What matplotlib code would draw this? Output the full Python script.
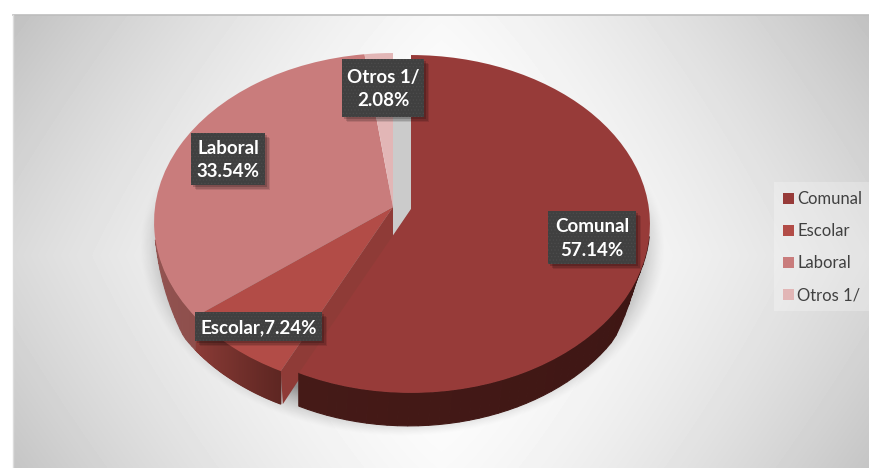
import numpy as np
import matplotlib
matplotlib.use("Agg")
import matplotlib.pyplot as plt
from matplotlib.transforms import Transform
from matplotlib.patches import Rectangle, Polygon
from matplotlib.colors import to_rgb

categories = ["Comunal", "Escolar", "Laboral", "Otros 1/"]
values = [57.14, 7.24, 33.54, 2.08]
colors = ["#973b39", "#b24c47", "#c97c7c", "#e2b6b6"]

W, H = 869, 468
K, A, B = 0.0886, 167.6, 238.0
DEPTH = 33
apex_main = (393, 207)
apex_out = (411, 209)
apexes = [apex_out, apex_main, apex_main, apex_main]
wall_cols = [("#6e2b27", "#3e1614", "#451a17"),
             ("#8c3c37", "#74302b", "#5e2622"),
             ("#a86868", "#9c605e", "#8e4f4c"),
             ("#c9a0a0", "#c9a0a0", "#c9a0a0")]

plt.rcParams["font.family"] = ["Lato", "DejaVu Sans"]


class Persp(Transform):
    input_dims = output_dims = 2
    is_separable = False
    has_inverse = False

    def __init__(self, cx, cy):
        super().__init__()
        self.cx, self.cy = cx, cy

    def transform_non_affine(self, xy):
        xy = np.asarray(xy, float)
        u, v = xy[:, 0], -xy[:, 1]
        w = 1 - K * v
        return np.column_stack([self.cx + B * u / w, self.cy + A * v / w])


fig = plt.figure(figsize=(W / 100, H / 100), dpi=100, facecolor="white")
ax = fig.add_axes([0, 0, 1, 1])
wedges, _ = ax.pie(values, colors=colors, startangle=90, counterclock=False,
                   wedgeprops=dict(linewidth=0))
ax.set_aspect("auto")
ax.set_xlim(0, W)
ax.set_ylim(H, 0)
ax.axis("off")

# background: soft gradient panel, dark at the corners
X0, Y0 = 13, 15
yy, xx = np.mgrid[Y0:H, X0:W]
dx = np.abs(xx - 441) / 428
dy = np.abs(yy - 255) / 240
f = 0.6 * dx ** 1.6 + 0.12 * dy ** 2 + 0.28 * dx * dy
bg = 255 - 62 * np.clip(f, 0, 1)
ax.imshow(bg, cmap="gray", vmin=0, vmax=255, extent=(X0, W, H, Y0),
          aspect="auto", zorder=0, interpolation="bilinear")
ax.plot([X0, W], [Y0, Y0], color="#bdbdbd", lw=1.2, zorder=0.5)
ax.plot([X0, X0], [Y0, H], color="#dcdcdc", lw=1, zorder=0.5)

# drop shadow under the pie
rho = np.sqrt(((xx - 402) / 263) ** 2 + ((yy - 246) / 190) ** 2)
sh = np.clip((1 - rho) / 0.16, 0, 1) ** 1.3 * 0.42
sh = np.where(xx > 663, 0, sh)
sh = sh * np.clip((yy - 170) / 50, 0, 1)
rgba = np.zeros(sh.shape + (4,))
rgba[..., 3] = sh
ax.imshow(rgba, extent=(X0, W, H, Y0), aspect="auto", zorder=1)
ax.set_xlim(0, W)
ax.set_ylim(H, 0)

# grey gap left by the exploded slice
ax.add_patch(Polygon([(393, 59), (411, 59), (411, 209), (393, 237)], closed=True,
                     fc="#cbcbcb", ec="none", zorder=1.5))

# side walls and faces, derived from the values
edges = np.concatenate([[0], np.cumsum(values)]) / 100 * 2 * np.pi
for i, wedge in enumerate(wedges):
    tr = Persp(*apexes[i])
    wedge.set_transform(tr + ax.transData)
    wedge.set_zorder(4 if i == 0 else 3)
    a0, a1 = edges[i], edges[i + 1]
    th = np.linspace(a0, a1, 90)
    rim = tr.transform_non_affine(np.column_stack([np.sin(th), np.cos(th)]))
    taper = np.clip((-np.cos(th) - 0.2) / 0.35, 0, 1)
    low = rim + np.column_stack([np.zeros_like(th), DEPTH * taper])
    if i == 0:  # far side of the base narrows towards the right
        low[:, 0] = rim[-1, 0] + (rim[:, 0] - rim[-1, 0]) * 0.982
    c0, c1, c2 = [np.array(to_rgb(c)) for c in wall_cols[i]]
    for j in range(len(th) - 1):
        if taper[j] == 0 and taper[j + 1] == 0:
            continue  # back of the rim is hidden
        t = j / (len(th) - 2)
        if i == 0:
            t0 = 1 - t
            col = c1 + (c0 - c1) * (t0 - 0.82) / 0.18 if t0 > 0.82 else c1 + (c2 - c1) * max(0, (0.45 - t0) / 0.45)
        else:
            col = c0 + (c2 - c0) * (1 - t)
        ax.add_patch(Polygon([rim[j], rim[j + 1], low[j + 1], low[j]], closed=True,
                             fc=col, ec=col, lw=0.8,
                             zorder=2.2 if i == 0 else 2))
    if i == 1:  # cut face of the slice next to the exploded one
        p = tr.transform_non_affine(np.array([[np.sin(a0), np.cos(a0)]]))[0]
        c = np.array(apexes[i], float)
        ax.add_patch(Polygon([c, p, p + [2, DEPTH], c + [0, 30]], closed=True,
                             fc="#8f3b37", ec="none", zorder=2.1))

# data label boxes
boxes = [(548, 211, 88, 53), (195, 312, 127, 29), (191, 133, 74, 52), (342, 59, 82, 58)]
labels = [f"{categories[0]}\n{values[0]:.2f}%",
          f"{categories[1]},{values[1]:.2f}%",
          f"{categories[2]}\n{values[2]:.2f}%",
          f"{categories[3]}\n{values[3]:.2f}%"]
plt.rcParams["hatch.linewidth"] = 0.5
for (x, y, w, h), lab in zip(boxes, labels):
    for off, al in ((5, 0.10), (3.5, 0.14), (2, 0.18)):
        ax.add_patch(Rectangle((x + off, y + off), w, h, fc="black", alpha=al, ec="none", zorder=5))
    ax.add_patch(Rectangle((x, y), w, h, fc="#404040", ec="#4c4c4c", lw=0, hatch=".....", zorder=6))
    ax.text(x + w / 2, y + h / 2 + 1, lab, color="white", fontsize=13.5, fontweight="bold",
            ha="center", va="center", linespacing=1.45, zorder=7)

# legend
ax.add_patch(Rectangle((774, 182), 95, 129, fc="white", alpha=0.25, ec="none", zorder=3))
leg = ax.legend(wedges, categories, loc="upper left", bbox_to_anchor=(783, 191),
                bbox_transform=ax.transData, frameon=False, fontsize=12,
                handlelength=0.66, handleheight=0.66, handletextpad=0.2,
                labelspacing=0.97, borderpad=0, borderaxespad=0, labelcolor="#404040")
leg.set_zorder(8)

fig.savefig("out.png", dpi=100, facecolor="white")
